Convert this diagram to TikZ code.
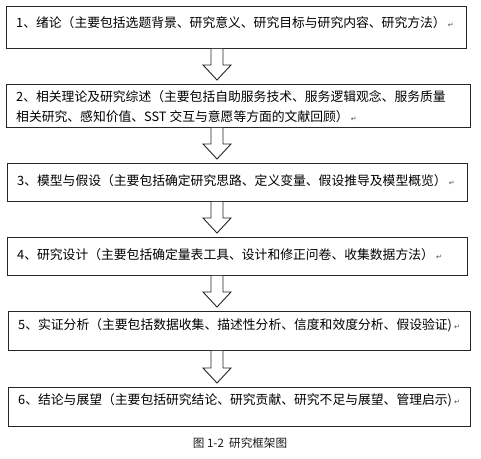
\documentclass[tikz,border=0pt]{standalone}
\usepackage{fontspec}
\setmainfont{Noto Sans CJK SC}
\newfontfamily\dejavu{DejaVu Sans}
\usetikzlibrary{calc}
\tikzset{
  box/.style={draw=black!85, line width=0.8pt, rectangle, anchor=north west, inner sep=0pt},
  boxtext/.style={anchor=west, inner sep=0pt, align=left, font=\fontsize{12.8pt}{20pt}\selectfont, text=black},
  barrow/.style={draw=black!85, line width=0.9pt, fill=white, line join=miter},
  captext/.style={font=\fontsize{11.6pt}{13pt}\selectfont, text=black!90}
}
\newcommand\parmark{\,{\dejavu\fontsize{7pt}{7pt}\selectfont\color{black!70}↵}}
\newcommand\flowarrow[2]{%
  \draw[barrow] let \p1=(#1.south), \p2=(#2.north) in
    (211pt,\y1) -- (211pt,\y2+19pt) -- (203pt,\y2+19pt) -- (217pt,\y2+4pt)
    -- (231pt,\y2+19pt) -- (223pt,\y2+19pt) -- (223pt,\y1);}
\begin{document}
\begin{tikzpicture}[x=1pt,y=-1pt]
\useasboundingbox[fill=white] (0,0) rectangle (481,458);
% boxes
\node[box, minimum width=460pt, minimum height=42pt] (b1) at (6,6) {};
\node[box, minimum width=464pt, minimum height=43pt] (b2) at (6,84) {};
\node[box, minimum width=460pt, minimum height=38pt] (b3) at (7,163) {};
\node[box, minimum width=460pt, minimum height=38pt] (b4) at (7,237) {};
\node[box, minimum width=462pt, minimum height=39pt] (b5) at (8,311) {};
\node[box, minimum width=462pt, minimum height=39pt] (b6) at (8,387) {};
% texts
\node[boxtext] (t1) at (16,23) {1、绪论（主要包括选题背景、研究意义、研究目标与研究内容、研究方法）\parmark};
\node[boxtext] (t2) at (16,107) {2、相关理论及研究综述（主要包括自助服务技术、服务逻辑观念、服务质量\\相关研究、感知价值、SST 交互与意愿等方面的文献回顾）\parmark};
\node[boxtext] (t3) at (17,181) {3、模型与假设（主要包括确定研究思路、定义变量、假设推导及模型概览）\parmark};
\node[boxtext] (t4) at (17,255) {4、研究设计（主要包括确定量表工具、设计和修正问卷、收集数据方法）\parmark};
\node[boxtext] (t5) at (18,325) {5、实证分析（主要包括数据收集、描述性分析、信度和效度分析、假设验证)\parmark};
\node[boxtext] (t6) at (18,400) {6、结论与展望（主要包括研究结论、研究贡献、研究不足与展望、管理启示)\parmark};
% arrows
\flowarrow{b1}{b2}
\flowarrow{b2}{b3}
\flowarrow{b3}{b4}
\flowarrow{b4}{b5}
\flowarrow{b5}{b6}
% caption
\node[captext] (cap) at (240,443) {图 1-2\ \ 研究框架图};
\end{tikzpicture}
\end{document}
